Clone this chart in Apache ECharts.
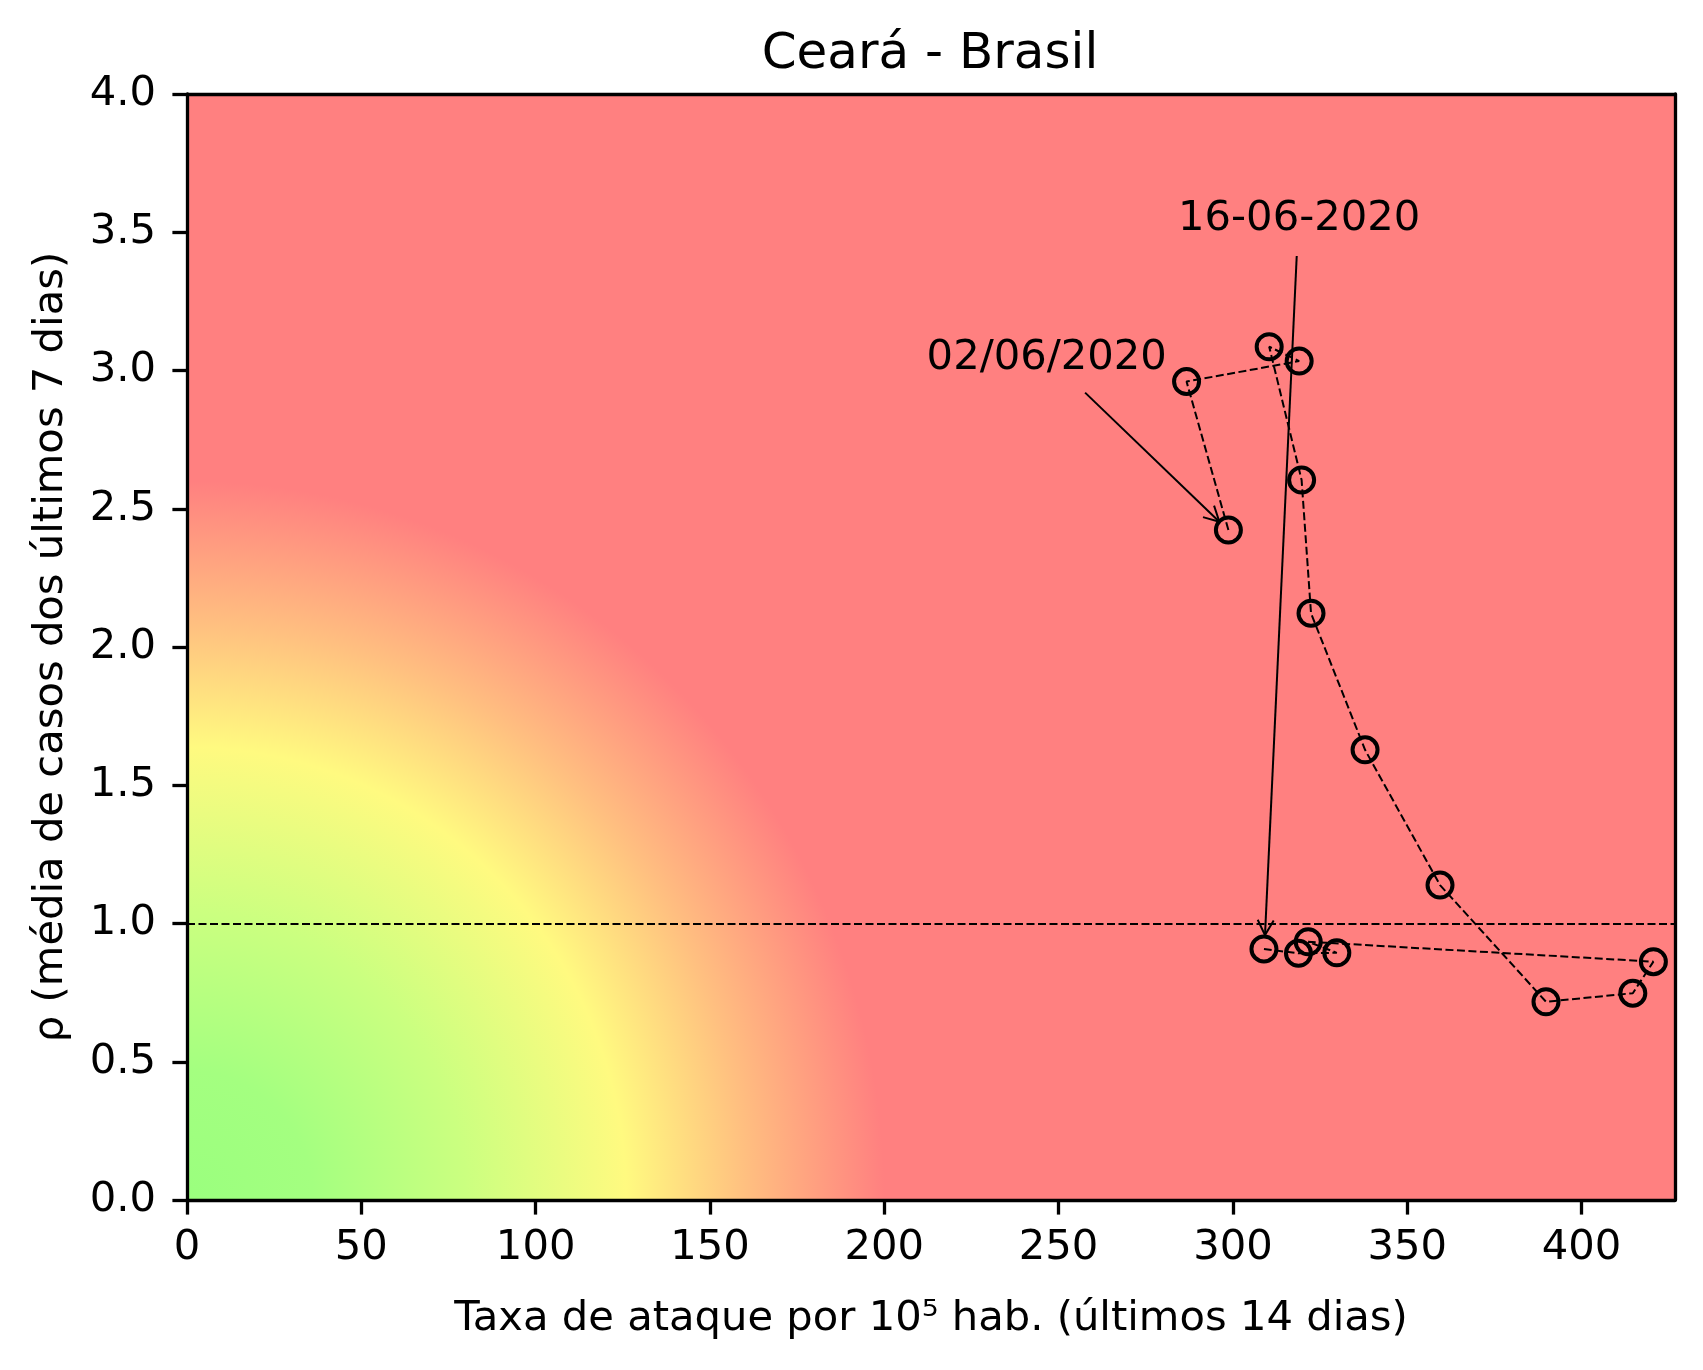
<!DOCTYPE html>
<html lang="pt">
<head>
    <meta charset="UTF-8">
    <title>Ceará - Brasil</title>
    <style>
        html, body { margin: 0; padding: 0; background: #fff; }
    </style>
</head>
<body>
    <div id="container" style="width: 1703px;height: 1370px"></div>
</body>
</html>
<script src="https://cdn.jsdelivr.net/npm/echarts@6/dist/echarts.min.js"></script>
<script>
// pontos diários (taxa de ataque 14 dias, rho 7 dias), na ordem do traçado
var taxaAtaque = [298.7, 286.7, 319.0, 310.4, 319.7, 322.4, 337.9, 359.4, 389.8, 414.7, 420.6, 321.6, 329.8, 318.8, 308.9];
var rho = [2.423, 2.960, 3.034, 3.086, 2.604, 2.122, 1.628, 1.139, 0.717, 0.748, 0.862, 0.934, 0.894, 0.892, 0.908];

var xTicks = [0, 50, 100, 150, 200, 250, 300, 350, 400];
var yTicks = [0, 0.5, 1.0, 1.5, 2.0, 2.5, 3.0, 3.5, 4.0];
var rhoLimite = 1.0;

// anotações: texto e seta (coordenadas de dados)
var annotTexts = ['02/06/2020', '16-06-2020'];
var annotTextX = [246.6, 319.0];
var annotTextY = [3.046, 3.549];
var arrowFromX = [257.6, 318.3];
var arrowFromY = [2.920, 3.414];
var arrowToX = [296.1, 309.2];
var arrowToY = [2.453, 0.958];

var FONT = 'DejaVu Sans';
var FS = 41.7;

var chart = echarts.init(document.getElementById('container'));

var pontos = taxaAtaque.map(function (x, i) { return [x, rho[i]]; });
var annotData = annotTexts.map(function (t, i) {
    return [annotTextX[i], annotTextY[i], arrowFromX[i], arrowFromY[i], arrowToX[i], arrowToY[i]];
});

// zona de risco (elipse verde -> amarelo -> vermelho)
var zonaRx = 200, zonaRy = 2.6;

function renderZona(params, api) {
    var o = api.coord([0, 0]);
    var ex = api.coord([zonaRx, 0]);
    var ey = api.coord([0, zonaRy]);
    var rx = ex[0] - o[0];
    var ry = o[1] - ey[1];
    var k = ry / rx;
    var cs = params.coordSys;
    return {
        type: 'rect',
        x: o[0],
        y: o[1],
        scaleY: k,
        silent: true,
        shape: {
            x: cs.x - o[0],
            y: (cs.y - o[1]) / k,
            width: cs.width,
            height: cs.height / k
        },
        style: {
            fill: {
                type: 'radial', x: 0, y: 0, r: rx, global: true,
                colorStops: [
                    { offset: 0, color: '#9aff7e' },
                    { offset: 0.18, color: '#a4ff80' },
                    { offset: 0.4, color: '#cbff80' },
                    { offset: 0.63, color: '#fffa80' },
                    { offset: 0.8, color: '#ffc080' },
                    { offset: 1, color: '#ff8080' }
                ]
            }
        }
    };
}

function renderAnot(params, api) {
    var i = params.dataIndex;
    var t = api.coord([api.value(0), api.value(1)]);
    var a = api.coord([api.value(2), api.value(3)]);
    var b = api.coord([api.value(4), api.value(5)]);
    var dx = b[0] - a[0], dy = b[1] - a[1];
    var len = Math.sqrt(dx * dx + dy * dy);
    var ux = dx / len, uy = dy / len;
    var L = 15, W = 8;
    return {
        type: 'group',
        children: [
            {
                type: 'line',
                shape: { x1: a[0], y1: a[1], x2: b[0], y2: b[1] },
                style: { stroke: '#000', lineWidth: 2 }
            },
            {
                type: 'polyline',
                shape: {
                    points: [
                        [b[0] - L * ux - W * uy, b[1] - L * uy + W * ux],
                        [b[0], b[1]],
                        [b[0] - L * ux + W * uy, b[1] - L * uy - W * ux]
                    ]
                },
                style: { stroke: '#000', lineWidth: 2, fill: null }
            },
            {
                type: 'text',
                x: t[0],
                y: t[1],
                style: {
                    text: annotTexts[i],
                    fill: '#000',
                    font: FS + 'px "' + FONT + '"',
                    align: 'center',
                    verticalAlign: 'middle'
                }
            }
        ]
    };
}

var axisLineStyle = { color: '#000', width: 3.3 };

sensorOption = {
    backgroundColor: '#fff',
    animation: false,
    title: {
        text: 'Ceará - Brasil',
        left: 925,
        top: 25,
        textAlign: 'center',
        textStyle: { fontFamily: FONT, fontSize: 50, fontWeight: 'normal', color: '#000' }
    },
    grid: { left: 187, top: 94, right: 28, bottom: 170, containLabel: false },
    xAxis: [
        {
            type: 'value', min: 0, max: 426.8, position: 'bottom', z: 5,
            name: 'Taxa de ataque por 10⁵ hab. (últimos 14 dias)',
            nameLocation: 'middle', nameGap: 98,
            nameTextStyle: { fontFamily: FONT, fontSize: FS, color: '#000' },
            axisLine: { show: true, onZero: false, lineStyle: axisLineStyle },
            axisTick: { show: true, length: 14.6, lineStyle: { color: '#000', width: 3.3 }, customValues: xTicks },
            axisLabel: { show: true, margin: 27, fontFamily: FONT, fontSize: FS, color: '#000', customValues: xTicks },
            splitLine: { show: false }
        },
        {
            type: 'value', min: 0, max: 426.8, position: 'top', z: 5,
            axisLine: { show: true, onZero: false, lineStyle: axisLineStyle },
            axisTick: { show: false }, axisLabel: { show: false }, splitLine: { show: false }
        }
    ],
    yAxis: [
        {
            type: 'value', min: 0, max: 4, position: 'left', z: 5,
            name: 'ρ (média de casos dos últimos 7 dias)',
            nameLocation: 'middle', nameGap: 115, nameRotate: 90,
            nameTextStyle: { fontFamily: FONT, fontSize: FS, color: '#000' },
            axisLine: { show: true, onZero: false, lineStyle: axisLineStyle },
            axisTick: { show: true, length: 14.6, lineStyle: { color: '#000', width: 3.3 }, customValues: yTicks },
            axisLabel: {
                show: true, margin: 31, fontFamily: FONT, fontSize: FS, color: '#000', customValues: yTicks,
                formatter: function (v) { return v.toFixed(1); }
            },
            splitLine: { show: false }
        },
        {
            type: 'value', min: 0, max: 4, position: 'right', z: 5,
            axisLine: { show: true, onZero: false, lineStyle: axisLineStyle },
            axisTick: { show: false }, axisLabel: { show: false }, splitLine: { show: false }
        }
    ],
    series: [
        {
            type: 'custom',
            z: 1,
            silent: true,
            renderItem: renderZona,
            data: [[0, 0]],
            clip: true
        },
        {
            type: 'line',
            z: 3,
            data: pontos,
            symbol: 'circle',
            symbolSize: 25,
            showSymbol: true,
            itemStyle: { color: 'rgba(0,0,0,0)', borderColor: '#000', borderWidth: 4 },
            lineStyle: { color: '#000', width: 2, type: [8, 3.5] },
            markLine: {
                silent: true,
                symbol: ['none', 'none'],
                label: { show: false },
                lineStyle: { color: '#000', width: 2, type: [8, 3.5] },
                data: [{ yAxis: rhoLimite }]
            }
        },
        {
            type: 'custom',
            z: 4,
            silent: true,
            renderItem: renderAnot,
            data: annotData,
            encode: { x: 0, y: 1 },
            clip: false
        }
    ]
};

chart.setOption(sensorOption);
</script>
